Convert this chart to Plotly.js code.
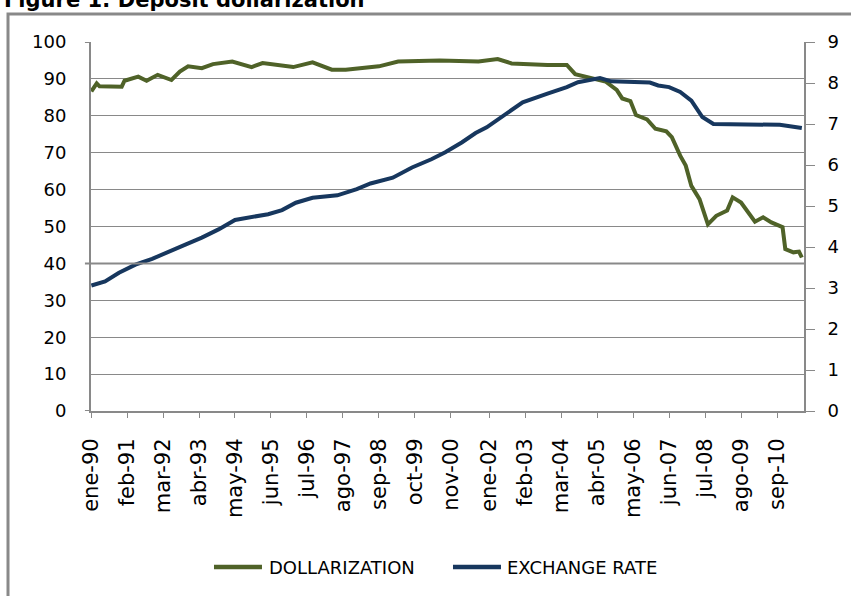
<!DOCTYPE html>
<html>
<head>
<meta charset="utf-8">
<script src="https://cdn.plot.ly/plotly-3.0.1.min.js"></script>
<style>
  html, body { margin: 0; padding: 0; background: #ffffff; }
  #chart { width: 851px; height: 596px; }
</style>
</head>
<body>
<div id="chart"></div>
<script>
// ---- Data ----
const dollarDates = ['1990-01','1990-03','1990-04','1990-08','1990-12','1991-01','1991-06','1991-09',
  '1992-01','1992-06','1992-09','1992-12','1993-05','1993-09','1994-04','1994-11','1995-03','1996-02',
  '1996-09','1997-04','1997-09','1998-09','1999-04','2000-07','2001-09','2002-04','2002-09','2003-10',
  '2004-05','2004-08','2005-02','2005-07','2005-11','2006-01','2006-04','2006-06','2006-10','2007-01',
  '2007-05','2007-07','2007-10','2007-12','2008-02','2008-05','2008-08','2008-11','2009-03','2009-05',
  '2009-08','2010-01','2010-04','2010-07','2010-11','2010-12','2011-03','2011-05','2011-06'];
const dollarization = [86.6,88.8,88.0,87.9,87.9,89.5,90.6,89.5,
  91.1,89.7,92.0,93.4,92.9,94.0,94.7,93.2,94.3,93.2,
  94.5,92.5,92.5,93.4,94.7,95.0,94.7,95.4,94.2,93.8,
  93.8,91.3,90.2,89.3,87.0,84.7,84.0,80.2,79.0,76.5,
  75.8,74.2,69.2,66.5,61.0,57.4,50.6,52.9,54.3,57.9,
  56.5,51.3,52.5,51.1,49.8,43.9,43.0,43.2,41.6];

const rateDates = ['1990-01','1990-06','1990-11','1991-05','1991-11','1992-06','1992-11','1993-05',
  '1993-11','1994-05','1994-11','1995-05','1995-10','1996-03','1996-09','1997-06','1998-01','1998-06',
  '1999-02','1999-09','2000-04','2000-09','2001-03','2001-08','2001-12','2002-07','2003-01','2003-10',
  '2004-05','2004-09','2005-05','2005-09','2006-11','2007-02','2007-06','2007-10','2008-02','2008-06',
  '2008-10','2010-10','2011-06'];
const exchangeRate = [3.06,3.16,3.37,3.57,3.71,3.90,4.06,4.23,
  4.43,4.66,4.72,4.80,4.90,5.08,5.20,5.26,5.41,5.55,
  5.69,5.94,6.14,6.31,6.55,6.78,6.92,7.25,7.53,7.74,
  7.90,8.02,8.12,8.04,8.01,7.94,7.90,7.78,7.57,7.17,
  7.00,6.98,6.90];

const tickDates = ['1990-01-01','1991-02-01','1992-03-01','1993-04-01','1994-05-01','1995-06-01',
  '1996-07-01','1997-08-01','1998-09-01','1999-10-01','2000-11-01','2002-01-01','2003-02-01',
  '2004-03-01','2005-04-01','2006-05-01','2007-06-01','2008-07-01','2009-08-01','2010-09-01'];
const tickLabels = ['ene-90','feb-91','mar-92','abr-93','may-94','jun-95','jul-96','ago-97','sep-98',
  'oct-99','nov-00','ene-02','feb-03','mar-04','abr-05','may-06','jun-07','jul-08','ago-09','sep-10'];

const seriesNames = ['DOLLARIZATION','EXCHANGE RATE'];
const seriesColors = ['#4F6228','#17375E'];
const chartTitle = 'Figure 1: Deposit dollarization';

// ---- Styling ----
const GRAY = '#898989';
const FONT = 'DejaVu Sans';

const traces = [
  { x: dollarDates, y: dollarization, name: seriesNames[0], type: 'scatter', mode: 'lines',
    line: { color: seriesColors[0], width: 4 }, yaxis: 'y' },
  { x: rateDates, y: exchangeRate, name: seriesNames[1], type: 'scatter', mode: 'lines',
    line: { color: seriesColors[1], width: 4 }, yaxis: 'y2' }
];

// custom legend placement (paper coords)
const legY = -0.4228;
const legendItems = [
  { x0: 0.1725, x1: 0.2398, tx: 0.2470 },
  { x0: 0.5077, x1: 0.5750, tx: 0.5808 }
];

const shapes = [
  // outer frame
  { type: 'rect', xref: 'paper', yref: 'paper', x0: -0.1164, x1: 1.25, y0: -1.0, y1: 1.0759,
    line: { color: GRAY, width: 3 }, fillcolor: 'rgba(0,0,0,0)', layer: 'below' },
  // emphasised line at 40
  { type: 'line', xref: 'paper', yref: 'y', x0: -0.0085, x1: 1, y0: 40, y1: 40,
    line: { color: GRAY, width: 2 } },
  // left tick marks at 0 and 100
  { type: 'line', xref: 'paper', yref: 'y', x0: -0.0085, x1: 0, y0: 100, y1: 100,
    line: { color: GRAY, width: 2 } },
  { type: 'line', xref: 'paper', yref: 'y', x0: -0.0085, x1: 0, y0: 0, y1: 0,
    line: { color: GRAY, width: 2 } }
];
const annotations = [
  { text: '<b>' + chartTitle + '</b>', xref: 'paper', yref: 'paper',
    x: -0.125, xanchor: 'left', y: 1 + (42 - 0) / 369, yanchor: 'middle',
    showarrow: false, font: { family: FONT, size: 21, color: '#000000' } }
];
legendItems.forEach((it, i) => {
  shapes.push({ type: 'line', xref: 'paper', yref: 'paper', x0: it.x0, x1: it.x1, y0: legY, y1: legY,
    line: { color: seriesColors[i], width: 4.5 } });
  annotations.push({ text: seriesNames[i], xref: 'paper', yref: 'paper', x: it.tx, xanchor: 'left',
    y: legY, yanchor: 'middle', showarrow: false,
    font: { family: FONT, size: 18, color: '#000000' } });
});

const layout = {
  width: 851, height: 596,
  margin: { l: 91, r: 47, t: 42, b: 185 },
  paper_bgcolor: '#ffffff', plot_bgcolor: '#ffffff',
  font: { family: FONT, size: 18, color: '#000000' },
  showlegend: false,
  xaxis: {
    type: 'date',
    range: ['1989-12-28', '2011-06-25'],
    tickmode: 'array', tickvals: tickDates, ticktext: tickLabels,
    tickangle: -90, ticks: 'outside', ticklen: 5, tickcolor: GRAY, tickwidth: 1,
    showline: true, linecolor: GRAY, linewidth: 2,
    showgrid: false, zeroline: false,
    tickfont: { family: FONT, size: 21, color: '#000000' },
    ticklabelstandoff: 12
  },
  yaxis: {
    range: [0, 100], dtick: 10, tick0: 0,
    showgrid: true, gridcolor: GRAY, gridwidth: 1,
    showline: true, linecolor: GRAY, linewidth: 2,
    zeroline: false, ticks: '',
    tickfont: { family: FONT, size: 18, color: '#000000' },
    ticklabelstandoff: 19
  },
  yaxis2: {
    range: [0, 9], dtick: 1, tick0: 0,
    overlaying: 'y', side: 'right',
    showgrid: false, zeroline: false,
    showline: true, linecolor: GRAY, linewidth: 2,
    ticks: 'outside', ticklen: 9, tickcolor: GRAY, tickwidth: 1,
    tickfont: { family: FONT, size: 18, color: '#000000' },
    ticklabelstandoff: 9
  },
  shapes: shapes,
  annotations: annotations
};

Plotly.newPlot('chart', traces, layout, { displayModeBar: false, staticPlot: true });
</script>
</body>
</html>
